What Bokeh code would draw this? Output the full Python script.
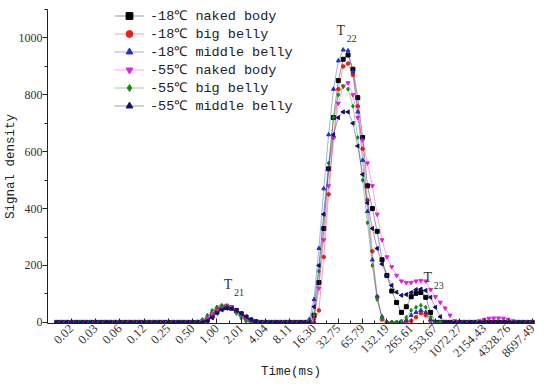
import math
from bokeh.plotting import figure
from bokeh.models import (Legend, LegendItem, FixedTicker, Label, Range1d)
from bokeh.embed import file_html
from bokeh.resources import INLINE

# T2 relaxation time tick labels (ms); data sampled on 99 log-spaced points
time_labels = ["0.02", "0.03", "0.06", "0.12", "0.25", "0.50", "1.00", "2.01",
               "4.04", "8.11", "16.30", "32.75", "65.79", "132.19", "265.61",
               "533.67", "1072.27", "2154.43", "4328.76", "8697.49"]
first_label_point = 3
points_per_label = 5
n_points = 99

# signal density, point 0..98
naked_18 = ([0] * 29 + [0, 0, 8, 22, 38, 48, 52, 50, 42, 30, 18, 8, 2] + [0] * 10 +
            [0, 25, 140, 330, 540, 720, 850, 925, 940, 890, 790, 650, 480, 400, 320, 220,
             165, 110, 70, 35, 55, 90, 102, 105, 88, 35, 0, 0, 0, 0, 0, 0] + [0] * 15)
big_18 = ([0] * 29 + [0, 0, 12, 28, 44, 54, 57, 52, 40, 25, 12, 4, 0] + [0] * 10 +
          [0, 0, 42, 230, 450, 650, 820, 900, 910, 870, 760, 610, 430, 250, 90, 10,
           0, 0, 0, 0, 0, 5, 18, 32, 25, 5, 0, 0, 0, 0, 0, 0] + [0] * 15)
middle_18 = ([0] * 29 + [0, 0, 6, 18, 34, 46, 52, 50, 42, 30, 18, 8, 2] + [0] * 10 +
             [10, 80, 260, 470, 660, 820, 920, 958, 955, 880, 740, 570, 390, 220, 90, 20,
              0, 0, 0, 0, 8, 25, 35, 42, 35, 10, 0, 0, 0, 0, 0, 0] + [0] * 15)
naked_55 = ([0] * 29 + [0, 5, 15, 32, 48, 57, 60, 55, 42, 26, 12, 3, 0] + [0] * 10 +
            [0, 10, 120, 290, 480, 650, 770, 830, 842, 800, 720, 640, 560, 480, 380, 290,
             230, 195, 165, 145, 140, 140, 145, 147, 145, 115, 90, 70, 50, 25, 5, 0] +
            [0, 0, 0, 5, 10, 14, 15, 15, 14, 10, 5, 0, 0, 0, 0])
big_55 = ([0] * 29 + [2, 10, 25, 42, 54, 60, 58, 48, 32, 15, 4, 0, 0] + [0] * 10 +
          [5, 25, 180, 380, 560, 720, 800, 830, 820, 760, 650, 500, 350, 200, 80, 15,
           0, 0, 0, 5, 18, 42, 53, 60, 53, 18, 0, 0, 0, 0, 0, 0] + [0] * 15)
middle_55 = ([0] * 29 + [0, 0, 5, 16, 32, 44, 50, 49, 42, 31, 20, 10, 3] + [0] * 10 +
             [0, 55, 200, 380, 540, 660, 720, 740, 740, 700, 620, 520, 420, 330, 260, 205,
              165, 130, 106, 95, 98, 105, 115, 117, 112, 88, 53, 20, 0, 0, 0, 0] + [0] * 15)

series = [
    ("-18℃ naked body", naked_18, "#000000", "square"),
    ("-18℃ big belly", big_18, "#e8201a", "circle"),
    ("-18℃ middle belly", middle_18, "#2030c8", "triangle"),
    ("-55℃ naked body", naked_55, "#e020e0", "inverted_triangle"),
    ("-55℃ big belly", big_55, "#108a10", "diamond"),
    ("-55℃ middle belly", middle_55, "#101070", "triangle"),
]

MONO = "Liberation Mono"
SERIF = "Liberation Serif"

p = figure(frame_width=487, frame_height=314, output_backend="svg", toolbar_location=None,
           x_range=Range1d(-1.9, 98.4), y_range=Range1d(-4, 1100),
           min_border_left=0, min_border_right=4, min_border_top=9, min_border_bottom=0)
p.outline_line_color = None
p.grid.visible = False
p.background_fill_color = "white"

x = list(range(n_points))
items = []
for name, vals, color, marker in series:
    r1 = p.line(x, vals, line_color=color, line_alpha=0.5, line_width=0.8)
    if name == "-55℃ middle belly":
        r2 = p.scatter(x, vals, marker="triangle", angle=math.pi / 2, size=4,
                       fill_color=color, line_color=color)
    else:
        r2 = p.scatter(x, vals, marker=marker, size=4 if marker != "circle" else 3.6,
                       fill_color=color, line_color=color)
    items.append(LegendItem(label=name, renderers=[r1, r2]))

legend = Legend(items=items, location=(67, 209), border_line_color=None,
                background_fill_alpha=0, padding=0, spacing=0, margin=0,
                glyph_width=30, glyph_height=17, label_standoff=6,
                label_text_font=MONO, label_text_font_size="13.5px",
                label_text_color="#222222", label_height=17)
p.add_layout(legend, "center")

# x axis
tick_pos = [first_label_point + points_per_label * k for k in range(len(time_labels))]
minor_pos = [t + points_per_label / 2 for t in tick_pos[:-1]] + [tick_pos[0] - points_per_label / 2]
p.xaxis.ticker = FixedTicker(ticks=tick_pos, minor_ticks=minor_pos)
p.xaxis.major_label_overrides = {t: lab for t, lab in zip(tick_pos, time_labels)}
p.xaxis.major_label_orientation = math.pi / 4
p.xaxis.major_tick_in = 5
p.xaxis.major_tick_out = 0
p.xaxis.minor_tick_in = 3
p.xaxis.minor_tick_out = 0
p.xaxis.axis_label = "Time(ms)"
p.xaxis.major_label_standoff = 3

p.yaxis.ticker = FixedTicker(ticks=[0, 200, 400, 600, 800, 1000],
                             minor_ticks=[100, 300, 500, 700, 900, 1100])
p.yaxis.major_tick_in = 0
p.yaxis.major_tick_out = 5
p.yaxis.minor_tick_in = 0
p.yaxis.minor_tick_out = 3
p.yaxis.axis_label = "Signal density"

for ax in (p.xaxis[0], p.yaxis[0]):
    ax.axis_line_color = "#222222"
    ax.major_tick_line_color = "#222222"
    ax.minor_tick_line_color = "#222222"
    ax.major_label_text_font = SERIF
    ax.major_label_text_font_size = "12px"
    ax.major_label_text_color = "#333333"
    ax.axis_label_text_font = MONO
    ax.axis_label_text_font_style = "normal"
    ax.axis_label_text_font_size = "12.5px"
    ax.axis_label_text_color = "#222222"
p.xaxis.major_label_text_font_size = "12.5px"
p.xaxis.axis_label_standoff = 1
p.yaxis.axis_label_standoff = -2
p.yaxis.major_label_standoff = 0

# peak annotations
peaks = [("21", 35.3, 105), ("22", 58.5, 1000), ("23", 76.4, 130)]
for sub, px, py in peaks:
    p.add_layout(Label(x=px, y=py, text="T", text_font=SERIF,
                       text_font_size="14px", text_color="#333333",
                       text_align="center", text_baseline="bottom"))
    p.add_layout(Label(x=px, y=py, x_offset=6, y_offset=-4, text=sub,
                       text_font=SERIF, text_font_size="10px",
                       text_color="#333333", text_align="left", text_baseline="bottom"))

open("out.html", "w").write(file_html(p, INLINE))
